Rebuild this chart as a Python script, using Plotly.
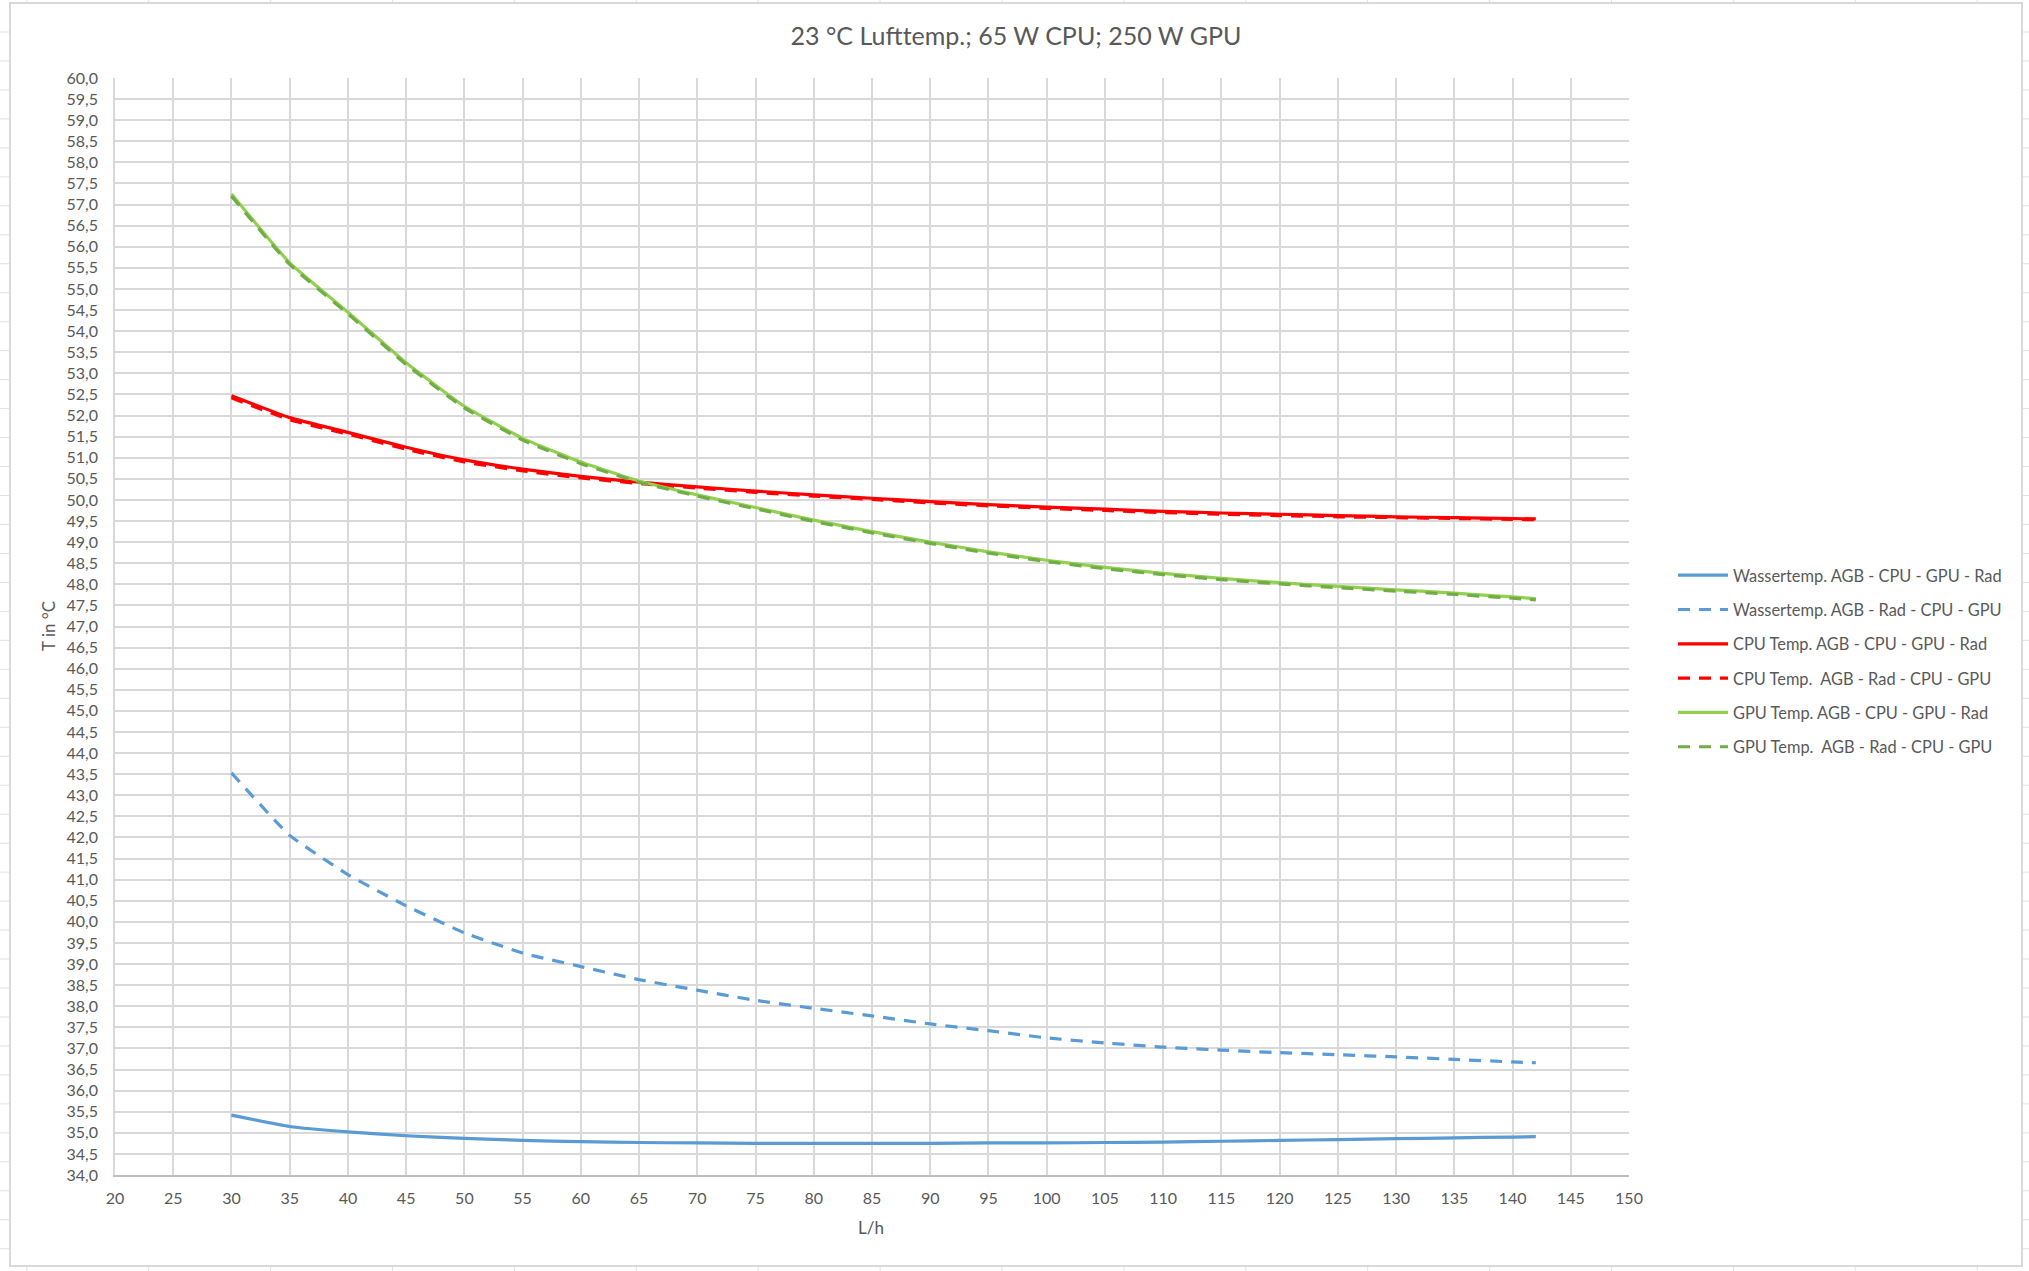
import plotly.graph_objects as go

# ---- data ----
flow = [30, 35, 40, 45, 50, 55, 60, 65, 70, 75, 80, 85, 90, 95, 100, 105, 110, 115, 120, 125, 130, 135, 140, 142]

wasser_cpu_gpu_rad = [35.42, 35.15, 35.02, 34.93, 34.87, 34.82, 34.79, 34.77, 34.76, 34.75, 34.75, 34.75,
                      34.75, 34.76, 34.76, 34.77, 34.78, 34.80, 34.82, 34.84, 34.86, 34.88, 34.90, 34.91]
wasser_rad_cpu_gpu = [43.53, 42.05, 41.12, 40.38, 39.74, 39.26, 38.94, 38.63, 38.38, 38.14, 37.95, 37.77,
                      37.58, 37.42, 37.25, 37.13, 37.03, 36.96, 36.90, 36.85, 36.80, 36.74, 36.68, 36.66]
cpu_cpu_gpu_rad = [52.47, 51.95, 51.60, 51.25, 50.95, 50.73, 50.56, 50.42, 50.31, 50.21, 50.12, 50.04,
                   49.96, 49.89, 49.83, 49.78, 49.73, 49.69, 49.66, 49.63, 49.60, 49.58, 49.56, 49.55]
cpu_rad_cpu_gpu = [52.42, 51.90, 51.56, 51.20, 50.90, 50.69, 50.52, 50.39, 50.28, 50.18, 50.09, 50.01,
                   49.93, 49.86, 49.80, 49.75, 49.70, 49.66, 49.63, 49.60, 49.58, 49.56, 49.54, 49.53]
gpu_cpu_gpu_rad = [57.25, 55.62, 54.45, 53.25, 52.22, 51.46, 50.90, 50.45, 50.12, 49.82, 49.52, 49.25,
                   49.00, 48.77, 48.57, 48.40, 48.26, 48.14, 48.04, 47.95, 47.87, 47.79, 47.70, 47.66]
gpu_rad_cpu_gpu = [57.20, 55.58, 54.41, 53.21, 52.18, 51.42, 50.86, 50.42, 50.09, 49.79, 49.49, 49.22,
                   48.97, 48.74, 48.54, 48.37, 48.23, 48.11, 48.01, 47.92, 47.84, 47.76, 47.67, 47.63]

series_names = [
    "Wassertemp. AGB - CPU - GPU - Rad",
    "Wassertemp. AGB - Rad - CPU - GPU",
    "CPU Temp. AGB - CPU - GPU - Rad",
    "CPU Temp.  AGB - Rad - CPU - GPU",
    "GPU Temp. AGB - CPU - GPU - Rad",
    "GPU Temp.  AGB - Rad - CPU - GPU",
]
series_values = [wasser_cpu_gpu_rad, wasser_rad_cpu_gpu, cpu_cpu_gpu_rad,
                 cpu_rad_cpu_gpu, gpu_cpu_gpu_rad, gpu_rad_cpu_gpu]
series_colors = ["#5B9BD5", "#5B9BD5", "#FF0000", "#FF0000", "#92D050", "#70AD47"]
series_dash = ["solid", "12px,9px", "solid", "12px,9px", "solid", "12px,9px"]

x_ticks = list(range(20, 151, 5))
y_ticks = [34 + 0.5 * i for i in range(53)]

title_text = "23 °C Lufttemp.; 65 W CPU; 250 W GPU"
x_title = "L/h"
y_title = "T in °C"

# ---- figure ----
W, H = 2029, 1271
L, R, T, B = 115, 400, 78, 96
pw, ph = W - L - R, H - T - B

FONT = "Lato, 'Open Sans', sans-serif"
TXT = "#595959"

fig = go.Figure()
for name, vals, col, dash in zip(series_names, series_values, series_colors, series_dash):
    fig.add_trace(go.Scatter(
        x=flow, y=vals, name=name, mode="lines",
        line=dict(color=col, width=3.2, dash=dash, shape="spline", smoothing=0.4),
        legendgroup=name,
    ))


def px_x(p):
    return (p - L) / pw


def px_y(p):
    return (H - B - p) / ph


shapes = []
# spreadsheet cell grid peeking out around the chart frame
cell_col = "#E1E1E1"
for k in range(17):
    xc = 26.8 + 121.9 * k
    for y0, y1 in [(0, 3), (1266, H)]:
        shapes.append(dict(type="line", xref="paper", yref="paper",
                           x0=px_x(xc), x1=px_x(xc), y0=px_y(y0), y1=px_y(y1),
                           line=dict(color=cell_col, width=1), layer="below"))
for k in range(45):
    yr = 32 + 28.97 * k
    if yr > H:
        break
    for x0, x1 in [(0, 10), (2022, W)]:
        shapes.append(dict(type="line", xref="paper", yref="paper",
                           x0=px_x(x0), x1=px_x(x1), y0=px_y(yr), y1=px_y(yr),
                           line=dict(color=cell_col, width=1), layer="below"))
# chart frame
shapes.append(dict(type="rect", xref="paper", yref="paper",
                   x0=px_x(10), x1=px_x(2022), y0=px_y(1266), y1=px_y(3),
                   line=dict(color="#D9D9D9", width=2), fillcolor="rgba(0,0,0,0)", layer="below"))

fig.update_layout(
    width=W, height=H,
    margin=dict(l=L, r=R, t=T, b=B, pad=0),
    paper_bgcolor="white", plot_bgcolor="white",
    separators=",.",
    font=dict(family=FONT, size=16, color=TXT),
    title=dict(text=title_text, x=1016 / W, xref="container", xanchor="center",
               y=1 - 36 / H, yref="container", yanchor="middle",
               font=dict(family=FONT, size=25, color=TXT)),
    xaxis=dict(range=[20, 150], tickvals=x_ticks, ticktext=[str(v) for v in x_ticks],
               showgrid=True, gridcolor="#D9D9D9", gridwidth=1.6,
               showline=True, linecolor="#BFBFBF", linewidth=2,
               zeroline=False, ticks="", ticklabelstandoff=8,
               tickfont=dict(family=FONT, size=16, color=TXT), mirror=False),
    yaxis=dict(range=[34, 60], tickvals=y_ticks, tickformat=".1f",
               showgrid=True, gridcolor="#D9D9D9", gridwidth=1.6,
               showline=True, linecolor="#D9D9D9", linewidth=1.6,
               zeroline=False, ticks="", ticklabelstandoff=12,
               tickfont=dict(family=FONT, size=16, color=TXT)),
    legend=dict(x=px_x(1673), y=px_y(558), xanchor="left", yanchor="top",
                font=dict(family=FONT, size=16.4, color=TXT),
                bgcolor="rgba(0,0,0,0)", tracegroupgap=10, itemwidth=50),
    shapes=shapes,
    annotations=[
        dict(text=y_title, x=px_x(48), y=px_y(626), xref="paper", yref="paper",
             textangle=-90, showarrow=False, xanchor="center", yanchor="middle",
             font=dict(family=FONT, size=17, color=TXT)),
        dict(text=x_title, x=px_x(871), y=px_y(1227), xref="paper", yref="paper",
             showarrow=False, xanchor="center", yanchor="middle",
             font=dict(family=FONT, size=17, color=TXT)),
    ],
)

fig.write_html("out.html", config={"displayModeBar": False},
               post_script="document.body.style.margin='0';document.body.style.overflow='hidden';")
